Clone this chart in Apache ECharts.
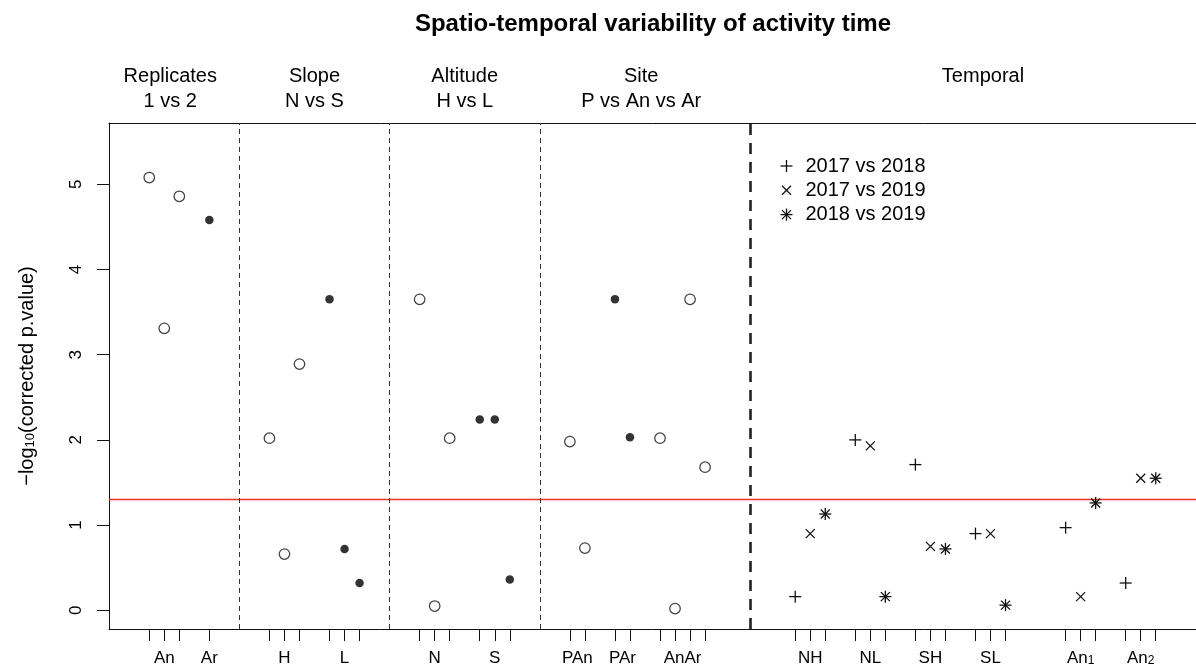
<!DOCTYPE html>
<html><head><meta charset="utf-8">
<script src="https://cdn.jsdelivr.net/npm/echarts@6/dist/echarts.min.js"></script>
<style>html,body{margin:0;padding:0;background:#fff}#c{width:1196px;height:668px}</style>
</head><body><div id="c"></div>
<script>
// ---- data ----
const tickPositions = [1,2,3,5, 9,10,11,13,14,15, 19,20,21,23,24,25, 29,30,32,33,35,36,37,38,
  44,45,46,48,49,50,52,53,54,56,57,58,62,63,64,66,67,68];
const tickLabelPositions = [2,5,10,14,20,24,29.5,32.5,36.5,45,49,53,57,63,67];
const tickLabels = ['An','Ar','H','L','N','S','PAn','PAr','AnAr','NH','NL','SH','SL','An₁','An₂'];
const yTicks = [0,1,2,3,4,5];
const groupNames = ['Replicates\n1 vs 2','Slope\nN vs S','Altitude\nH vs L','Site\nP vs An vs Ar','Temporal\n '];
const groupCenters = [2.4, 12, 22, 33.75, 56.5];
const groupBreaks = [7, 17, 27, 41];

const openX = [1,2,3, 9,10,11, 19,20,21, 29,30, 35,36,37,38];
const openY = [5.08,3.31,4.86, 2.02,0.66,2.89, 3.65,0.05,2.02, 1.98,0.73, 2.02,0.02,3.65,1.68];
const filledX = [5, 13,14,15, 23,24,25, 32,33];
const filledY = [4.58, 3.65,0.72,0.32, 2.24,2.24,0.36, 3.65,2.03];
const plusX = [44,48,52,56,62,66];
const plusY = [0.16,2.00,1.71,0.90,0.97,0.32];
const crossX = [45,49,53,57,63,67];
const crossY = [0.90,1.93,0.75,0.90,0.16,1.55];
const starX = [46,50,54,58,64,68];
const starY = [1.13,0.16,0.72,0.06,1.26,1.55];
const legendLabels = ['2017 vs 2018','2017 vs 2019','2018 vs 2019'];
const legendKinds = ['plus','cross','star'];
const thresholds = [-Math.log10(0.05)];

// ---- chart ----
const FONT = '"Liberation Sans", Arial, Helvetica, sans-serif';
const INK = '#111';
const RED = '#f0302a';
const zip = (xs, ys) => xs.map((x, i) => [x, ys[i]]);
const sub = s => s.replace(/₁/g, '{s|1}').replace(/₂/g, '{s|2}');

function shapeLines(kind, x, y) {
  const segs = [];
  const rp = 6, rx = 4.5;
  if (kind === 'plus' || kind === 'star') { segs.push([x - rp, y, x + rp, y], [x, y - rp, x, y + rp]); }
  if (kind === 'cross' || kind === 'star') { segs.push([x - rx, y - rx, x + rx, y + rx], [x - rx, y + rx, x + rx, y - rx]); }
  return segs.map(s => ({ type: 'line', shape: { x1: s[0], y1: s[1], x2: s[2], y2: s[3] },
    style: { stroke: INK, lineWidth: 1.3 } }));
}
function markerSeries(name, kind, data) {
  return {
    type: 'custom', name, data, silent: true, z: 3,
    renderItem: (params, api) => {
      const c = api.coord([api.value(0), api.value(1)]);
      return { type: 'group', children: shapeLines(kind, c[0], c[1]) };
    }
  };
}

const chart = echarts.init(document.getElementById('c'), null, { renderer: 'canvas' });

const legendGraphic = {
  type: 'group', left: 778, top: 156,
  children: legendKinds.flatMap((k, i) => [
    ...shapeLines(k, 9, 11 + i * 24.3),
    { type: 'text', style: { x: 28, y: 11 + i * 24.3, text: legendLabels[i], fill: '#000',
      font: '20px ' + FONT, verticalAlign: 'middle', align: 'left' } }
  ])
};

chart.setOption({
  animation: false,
  backgroundColor: '#fff',
  textStyle: { fontFamily: FONT },
  title: {
    text: 'Spatio-temporal variability of activity time',
    left: 653, top: 12, textAlign: 'center', padding: 0,
    textStyle: { fontSize: 24, fontWeight: 'bold', color: '#000', fontFamily: FONT }
  },
  grid: { left: 109, right: -1, top: 123, bottom: 39, show: false },
  xAxis: [{
    type: 'value', min: -1.68, max: 70.68, position: 'bottom',
    axisLine: { show: true, onZero: false, lineStyle: { color: INK, width: 1 } },
    axisTick: { show: true, customValues: tickPositions, length: 12, lineStyle: { color: INK } },
    axisLabel: {
      customValues: tickLabelPositions, fontSize: 17, color: '#000', margin: 21, fontFamily: FONT,
      formatter: v => sub(tickLabels[tickLabelPositions.indexOf(v)] || ''),
      rich: { s: { fontSize: 12, lineHeight: 12, color: '#000', verticalAlign: 'bottom', fontFamily: FONT } }
    },
    splitLine: { show: false }
  }, {
    type: 'value', min: -1.68, max: 70.68, position: 'top',
    axisLine: { show: true, onZero: false, lineStyle: { color: INK, width: 1 } },
    axisTick: { show: false }, splitLine: { show: false },
    axisLabel: {
      customValues: groupCenters, fontSize: 20, lineHeight: 25, color: '#000', margin: 9, fontFamily: FONT,
      formatter: v => groupNames[groupCenters.indexOf(v)] || ''
    }
  }],
  yAxis: {
    type: 'value', min: -0.22, max: 5.72,
    axisLine: { show: true, onZero: false, lineStyle: { color: INK } },
    axisTick: { show: true, customValues: yTicks, length: 12, lineStyle: { color: INK } },
    axisLabel: { customValues: yTicks, rotate: 90, fontSize: 17, color: '#000', margin: 24, fontFamily: FONT },
    splitLine: { show: false },
    name: '−log{s|10}(corrected p.value)', nameLocation: 'middle', nameGap: 72, nameRotate: 90,
    nameTextStyle: { fontSize: 20, color: '#000', fontFamily: FONT,
      rich: { s: { fontSize: 13, lineHeight: 13, color: '#000', verticalAlign: 'bottom', fontFamily: FONT } } }
  },
  graphic: [legendGraphic],
  series: [
    {
      // significance threshold (p = 0.05), drawn across the plot region
      type: 'custom', name: 'threshold', silent: true, z: 1,
      data: thresholds.map(t => [0, t]),
      renderItem: (params, api) => {
        const cs = params.coordSys;
        const y = api.coord([0, api.value(1)])[1];
        return { type: 'line', shape: { x1: cs.x, y1: y, x2: cs.x + cs.width, y2: y },
          style: { stroke: RED, lineWidth: 1.6 } };
      }
    },
    {
      type: 'scatter', name: 'open', data: zip(openX, openY), symbol: 'circle', symbolSize: 10.5, silent: true, z: 3,
      itemStyle: { color: 'rgba(0,0,0,0)', borderColor: INK, borderWidth: 1.25 },
      markLine: {
        silent: true, symbol: ['none', 'none'], label: { show: false },
        data: groupBreaks.map((b, i) => ({
          xAxis: b,
          lineStyle: i === groupBreaks.length - 1
            ? { color: '#222', width: 2.6, type: [11, 8] }
            : { color: '#333', width: 1, type: [5, 4] }
        }))
      }
    },
    {
      type: 'scatter', name: 'filled', data: zip(filledX, filledY), symbol: 'circle', symbolSize: 8.5, silent: true, z: 3,
      itemStyle: { color: '#000' }
    },
    markerSeries('2017 vs 2018', 'plus', zip(plusX, plusY)),
    markerSeries('2017 vs 2019', 'cross', zip(crossX, crossY)),
    markerSeries('2018 vs 2019', 'star', zip(starX, starY))
  ]
});
</script>
</body></html>
